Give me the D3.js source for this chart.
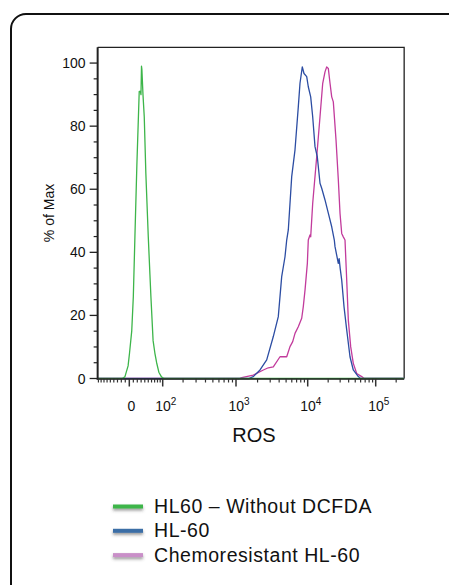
<!DOCTYPE html>
<html>
<head>
<meta charset="utf-8">
<script src="https://cdn.jsdelivr.net/npm/d3@7"></script>
<style>
  html, body { margin: 0; padding: 0; background: #fff; }
  svg { display: block; font-family: "Liberation Sans", Arial, sans-serif; }
</style>
</head>
<body>
<svg id="chart" width="449" height="585"></svg>
<script>
// ROS (biexponential axis) vs % of Max
const seriesNames = ['HL60 – Without DCFDA', 'HL-60', 'Chemoresistant HL-60']

const greenHist = [
  [-93, 0], [-18, 0], [-11, 0.5], [-3, 4], [0.5, 8], [6, 15], [10, 26], [14, 45], [19, 68],
  [25, 91], [28, 91], [29.6, 90], [31, 99], [32, 98], [35, 90], [38.5, 83], [43, 65],
  [50, 45], [55, 33], [58, 26], [65, 12], [71, 8], [77, 5], [85, 2], [95, 0.5], [105, 0],
  [262144, 0]
]
const blueHist = [
  [-93, 0], [1500, 0], [1745, 0.6], [2164, 2.7], [2682, 5.9], [3316, 13.3], [3892, 19.6],
  [4340, 32.3], [4826, 38.6], [5097, 43.9], [5366, 47.1], [5985, 64], [6654, 72.5],
  [7395, 86.1], [7809, 93.6], [8409, 98.8], [8881, 96.7], [9686, 95.7], [10203, 92.5],
  [11066, 89.3], [11841, 83], [12806, 73.5], [13843, 70.3], [15170, 61.9], [16070, 60.3],
  [17970, 56.6], [20098, 52.4], [22550, 48.1], [24628, 43.9], [25217, 41.8], [28192, 36.5],
  [29000, 38], [30000, 35], [31635, 31.2], [34196, 22.8], [37468, 15.4], [41876, 6.9],
  [46839, 2.7], [55480, 0.6], [60000, 0], [262144, 0]
]
const pinkHist = [
  [-93, 0], [1100, 0], [1202, 0.3], [1745, 1.1], [2405, 2.7], [2824, 3.4], [3316, 3.7],
  [4111, 6.9], [5097, 6.9], [5666, 10.1], [6180, 11.7], [6654, 14.3], [7395, 16.4],
  [8250, 19.1], [8683, 22.8], [9181, 28.1], [9888, 36.5], [10203, 43.9], [10806, 45.5],
  [11066, 44.9], [11841, 55.5], [13567, 70.3], [15170, 83], [16625, 93.6], [17970, 97.2],
  [19024, 98.8], [20098, 98.3], [21300, 93.6], [22550, 89.3], [23807, 87.7], [26090, 75.6],
  [28192, 63.1], [29867, 52.4], [31635, 46], [33393, 44.9], [35370, 43.9], [37468, 31.2],
  [39568, 18.5], [42864, 10.1], [46839, 4.8], [52560, 1.6], [62230, 0.6], [68000, 0],
  [262144, 0]
]

const xMajorTicks = [0, 100, 1000, 10000, 100000]
const xMajorLabels = [['0', ''], ['10', '2'], ['10', '3'], ['10', '4'], ['10', '5']]
const xMinorTicks = [-90, -80, -70, -60, -50, -40, -30, -20, -10,
  10, 20, 30, 40, 50, 60, 70, 80, 90,
  200, 300, 400, 500, 600, 700, 800, 900,
  2000, 3000, 4000, 5000, 6000, 7000, 8000, 9000,
  20000, 30000, 40000, 50000, 60000, 70000, 80000, 90000, 200000]
const yMajorTicks = [0, 20, 40, 60, 80, 100]
const xDomain = [-93, 262144]

const lineColors = ['#3db54a', '#2c4da3', '#c23b9c']
const legendColors = ['#3cb54a', '#3a6ea6', '#c98fc8']

const svg = d3.select('#chart')

// biex-like transform, then a piecewise linear scale through the decade marks
const biex = v => Math.asinh(v / 76)
const xs = d3.scaleLinear()
  .domain(xMajorTicks.map(biex))
  .range([129.3, 162.7, 236, 307.7, 375.7])
const X = v => xs(biex(v))
const y = d3.scaleLinear().domain([0, 105]).range([378.5, 47.3])

const plotLeft = X(xDomain[0])
const plotRight = X(xDomain[1])
const plotTop = y(105)
const plotBottom = y(0)

// outer rounded box
svg.append('rect')
  .attr('x', 11).attr('y', 14)
  .attr('width', 452).attr('height', 585)
  .attr('rx', 15)
  .style('fill', 'none').style('stroke', '#111').style('stroke-width', 2)

// frame top/right
svg.append('path')
  .attr('d', `M${plotLeft},${plotTop}H${plotRight}V${plotBottom}`)
  .style('fill', 'none').style('stroke', '#222').style('stroke-width', 1.3)

// curves
const line = d3.line().x(d => X(d[0])).y(d => y(d[1]))
const curves = [pinkHist, blueHist, greenHist]
const curveColors = [lineColors[2], lineColors[1], lineColors[0]]
svg.append('g').selectAll('path').data(curves).enter().append('path')
  .attr('d', line)
  .style('fill', 'none')
  .style('stroke', (d, i) => curveColors[i])
  .style('stroke-width', 1.3)
  .style('stroke-linejoin', 'round')

// axes lines
svg.append('line')
  .attr('x1', plotLeft).attr('x2', plotLeft).attr('y1', plotTop).attr('y2', plotBottom + 1)
  .style('stroke', '#222').style('stroke-width', 2)
svg.append('line')
  .attr('x1', plotLeft - 1).attr('x2', plotRight).attr('y1', plotBottom + 0.5).attr('y2', plotBottom + 0.5)
  .style('stroke', '#222').style('stroke-width', 1.5)

// y ticks
const yAxis = svg.append('g')
yAxis.selectAll('.ymajor').data(yMajorTicks).enter().append('line')
  .attr('x1', plotLeft - 8).attr('x2', plotLeft)
  .attr('y1', d => y(d)).attr('y2', d => y(d))
  .style('stroke', '#222').style('stroke-width', 1.3)
yAxis.selectAll('.yminor').data(d3.range(5, 105, 5).filter(v => v % 20 !== 0)).enter().append('line')
  .attr('x1', plotLeft - 4).attr('x2', plotLeft)
  .attr('y1', d => y(d)).attr('y2', d => y(d))
  .style('stroke', '#222').style('stroke-width', 1.2)
yAxis.selectAll('text').data(yMajorTicks).enter().append('text')
  .attr('x', plotLeft - 12).attr('y', d => y(d) + 5)
  .attr('text-anchor', 'end')
  .style('font-size', '14px').style('fill', '#111')
  .text(d => d)

// x ticks
const xAxis = svg.append('g')
xAxis.selectAll('.xmajor').data(xMajorTicks).enter().append('line')
  .attr('x1', d => X(d)).attr('x2', d => X(d))
  .attr('y1', plotBottom).attr('y2', plotBottom + 8)
  .style('stroke', '#333').style('stroke-width', 1.5)
xAxis.selectAll('.xminor').data(xMinorTicks).enter().append('line')
  .attr('x1', d => X(d)).attr('x2', d => X(d))
  .attr('y1', plotBottom).attr('y2', plotBottom + 4)
  .style('stroke', '#333').style('stroke-width', 1.2)
const xLabel = xAxis.selectAll('text').data(xMajorTicks).enter().append('text')
  .attr('x', (d, i) => X(d) + (i === 0 ? 2 : 3))
  .attr('y', 411)
  .attr('text-anchor', 'middle')
  .style('font-size', '14px').style('fill', '#111')
xLabel.append('tspan').text((d, i) => xMajorLabels[i][0])
xLabel.append('tspan')
  .attr('dy', -6).style('font-size', '10px')
  .text((d, i) => xMajorLabels[i][1])

// axis titles
svg.append('text')
  .attr('x', 254).attr('y', 442)
  .attr('text-anchor', 'middle')
  .style('font-size', '20px').style('fill', '#111')
  .text('ROS')
svg.append('text')
  .attr('transform', 'translate(54,213) rotate(-90)')
  .attr('text-anchor', 'middle')
  .style('font-size', '14px').style('fill', '#111')
  .text('% of Max')

// legend
const defs = svg.append('defs')
const shadow = defs.append('filter').attr('id', 'shadow')
  .attr('x', '-30%').attr('y', '-150%').attr('width', '160%').attr('height', '400%')
shadow.append('feDropShadow')
  .attr('dx', 0).attr('dy', 2).attr('stdDeviation', 1.4)
  .attr('flood-color', '#444').attr('flood-opacity', 0.55)

const legend = svg.append('g').attr('transform', 'translate(113,506.5)')
const item = legend.selectAll('g').data(seriesNames).enter().append('g')
  .attr('transform', (d, i) => `translate(0,${i * 24.3})`)
item.append('rect')
  .attr('x', 0).attr('y', -2).attr('width', 30).attr('height', 4)
  .style('fill', (d, i) => legendColors[i])
  .attr('filter', 'url(#shadow)')
item.append('text')
  .attr('x', 41).attr('y', 6.5)
  .style('font-size', '19.5px').style('letter-spacing', '0.55px').style('fill', '#111')
  .text(d => d)
</script>
</body>
</html>
